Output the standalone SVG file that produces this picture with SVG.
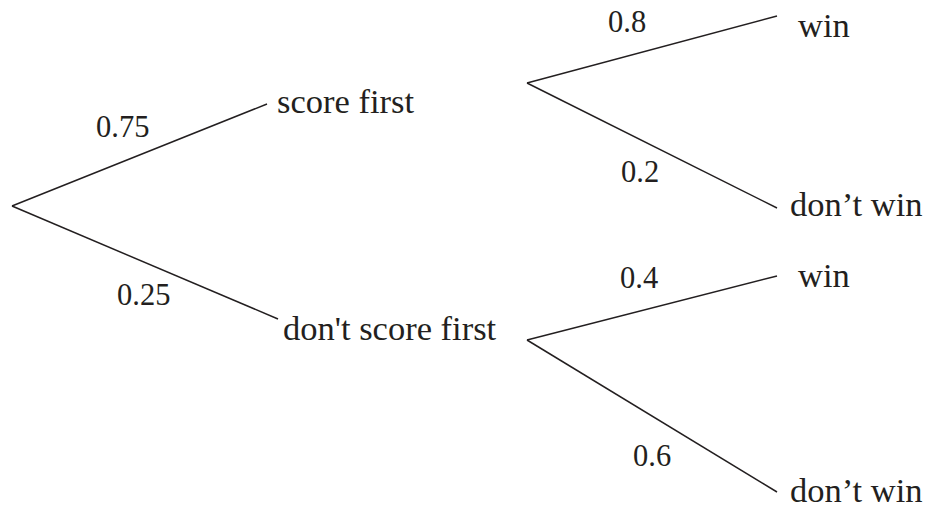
<svg xmlns="http://www.w3.org/2000/svg" width="928" height="511" viewBox="0 0 928 511">
<style>
.t{font-family:"Liberation Serif","Times New Roman",serif;font-size:34.5px;fill:#231f20}
.p{font-family:"Liberation Serif","Times New Roman",serif;font-size:30.5px;fill:#231f20}
.e{stroke:#231f20;stroke-width:1.5;fill:none}
</style>
<rect width="928" height="511" fill="#fff"/>
<g id="connectors">
<line class="e" x1="12" y1="206" x2="267" y2="104"/>
<line class="e" x1="12" y1="206" x2="278" y2="319"/>
<line class="e" x1="527" y1="83" x2="777" y2="16"/>
<line class="e" x1="527" y1="83" x2="777" y2="208"/>
<line class="e" x1="527" y1="340" x2="777" y2="276"/>
<line class="e" x1="527" y1="340" x2="777" y2="492"/>
</g>
<g id="labels">
<text class="p" x="96" y="137">0.75</text>
<text class="p" x="117" y="305">0.25</text>
<text class="p" x="608" y="32">0.8</text>
<text class="p" x="621" y="182">0.2</text>
<text class="p" x="620" y="288">0.4</text>
<text class="p" x="633" y="466">0.6</text>
</g>
<g id="n-score"><text class="t" x="277" y="113">score first</text></g>
<g id="n-noscore"><text class="t" x="283" y="340">don't score first</text></g>
<g id="n-win1"><text class="t" x="798" y="37">win</text></g>
<g id="n-lose1"><text class="t" x="790" y="216">don’t win</text></g>
<g id="n-win2"><text class="t" x="798" y="287">win</text></g>
<g id="n-lose2"><text class="t" x="790" y="502">don’t win</text></g>
</svg>
